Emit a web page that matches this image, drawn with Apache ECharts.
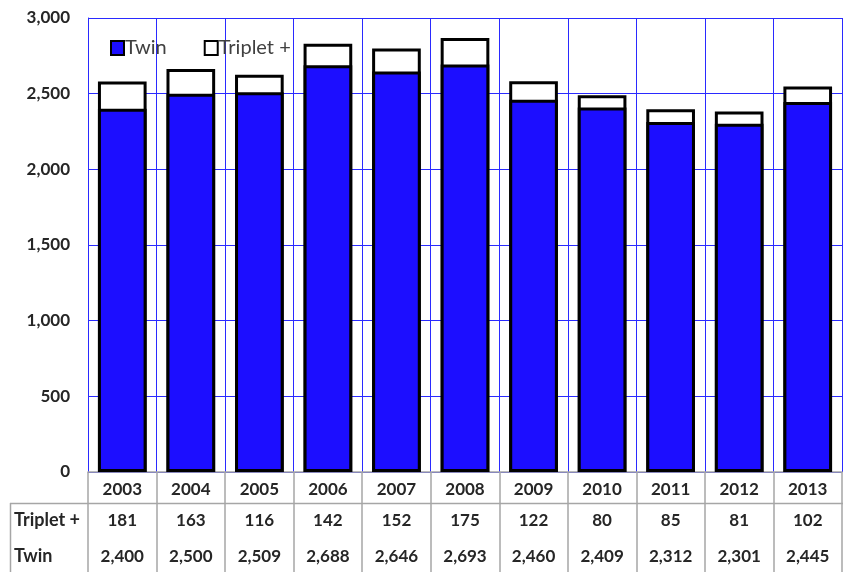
<!DOCTYPE html>
<html><head><meta charset="utf-8">
<script src="https://cdn.jsdelivr.net/npm/echarts@6/dist/echarts.min.js"></script>
<style>html,body{margin:0;padding:0;background:#fff}#c{width:843px;height:572px}</style>
</head><body><div id="c"></div>
<script>
const years = ['2003','2004','2005','2006','2007','2008','2009','2010','2011','2012','2013'];
const twin = [2400,2500,2509,2688,2646,2693,2460,2409,2312,2301,2445];
const triplet = [181,163,116,142,152,175,122,80,85,81,102];
const seriesNames = ['Twin','Triplet +'];
const yTicks = {min:0, max:3000, interval:500};

const fmt = v => Number(v).toLocaleString('en-US');
// top of each stacked bar (Twin + Triplet +)
const stackTop = twin.map((v,i)=>v+triplet[i]);
const FONT = 'Lato';
const TXT = '#262626';
const BLUE = '#1c0eff';
const GRIDC = '#2a2aff';
const TABLEC = '#a6a6a6';
const BW = '71%';

const chart = echarts.init(document.getElementById('c'));
chart.setOption({
  animation:false,
  textStyle:{fontFamily:FONT},
  grid:[
    {left:88, right:1, top:18, height:454},
    {left:88, right:1, top:472, height:100}
  ],
  legend:{
    left:105, top:33, itemWidth:13, itemHeight:14, itemGap:37, icon:'rect',
    itemStyle:{borderColor:'#000', borderWidth:2},
    textStyle:{fontFamily:FONT, fontSize:20, color:'#404040', padding:[0,0,0,-4]},
    data:seriesNames
  },
  xAxis:[
    {type:'category', gridIndex:0, data:years, boundaryGap:true,
     axisLine:{show:true, lineStyle:{color:TABLEC, width:1.5}}, axisTick:{show:false},
     splitLine:{show:true, interval:0, lineStyle:{color:GRIDC, width:1}},
     axisLabel:{interval:0, margin:9, fontFamily:FONT, fontWeight:'bold', fontSize:17, color:TXT}},
    {type:'category', gridIndex:0, data:triplet.map(fmt), position:'bottom',
     axisLine:{show:false}, axisTick:{show:false},
     axisLabel:{interval:0, margin:40, fontFamily:FONT, fontWeight:'bold', fontSize:17, color:TXT}},
    {type:'category', gridIndex:0, data:twin.map(fmt), position:'bottom',
     axisLine:{show:false}, axisTick:{show:false},
     axisLabel:{interval:0, margin:76, fontFamily:FONT, fontWeight:'bold', fontSize:17, color:TXT}},
    {type:'category', gridIndex:1, data:years, boundaryGap:true,
     axisLine:{show:false}, axisTick:{show:false}, axisLabel:{show:false},
     splitLine:{show:true, interval:0, lineStyle:{color:TABLEC, width:1.5}}}
  ],
  yAxis:[
    {type:'value', gridIndex:0, min:yTicks.min, max:yTicks.max, interval:yTicks.interval,
     axisLine:{show:true, lineStyle:{color:GRIDC}}, axisTick:{show:false},
     splitLine:{show:true, lineStyle:{color:GRIDC, width:1}},
     axisLabel:{margin:18, fontFamily:FONT, fontWeight:'bold', fontSize:17, color:TXT, formatter:v=>fmt(v)}},
    {type:'value', gridIndex:1, min:0, max:1, show:false}
  ],
  series:[
    {name:seriesNames[1], type:'bar', xAxisIndex:0, yAxisIndex:0, data:stackTop, barWidth:BW, barGap:'-100%',
     itemStyle:{color:'#fff', borderColor:'#000', borderWidth:3}},
    {name:seriesNames[0], type:'bar', xAxisIndex:0, yAxisIndex:0, data:twin, barWidth:BW, barGap:'-100%',
     itemStyle:{color:BLUE, borderColor:'#000', borderWidth:3}}
  ],
  graphic:[
    {type:'line', shape:{x1:10, y1:503.5, x2:843, y2:503.5}, style:{stroke:TABLEC, lineWidth:1.5}, silent:true},
    {type:'line', shape:{x1:10.5, y1:503, x2:10.5, y2:572}, style:{stroke:TABLEC, lineWidth:1.5}, silent:true},
    {type:'text', left:14, top:511, style:{text:seriesNames[1], font:'bold 18px '+FONT, fill:TXT}},
    {type:'text', left:14, top:547, style:{text:seriesNames[0], font:'bold 18px '+FONT, fill:TXT}}
  ]
});
</script></body></html>
